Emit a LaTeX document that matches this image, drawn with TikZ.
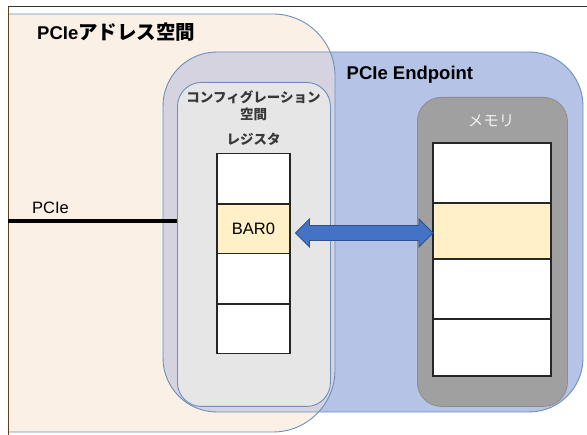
\documentclass[tikz,border=0pt]{standalone}
\usepackage{fontspec}
\setmainfont{Liberation Sans}
\newfontfamily\cjk{Noto Sans CJK JP}
\usetikzlibrary{calc}

\definecolor{peach}{HTML}{FAF0E6}
\definecolor{epblue}{HTML}{B4C3E6}
\definecolor{lavender}{HTML}{D6D3E0}
\definecolor{edgeblue}{HTML}{6C8EBF}
\definecolor{cfggray}{HTML}{E6E6E6}
\definecolor{memgray}{HTML}{A0A0A0}
\definecolor{barfill}{HTML}{FFF0C8}
\definecolor{arrowfill}{HTML}{4472C4}
\definecolor{arrowedge}{HTML}{2F528F}

\tikzset{
  region/.style={draw=edgeblue, line width=0.9pt},
  cell/.style={draw=black!85, line width=1.1pt, fill=white, inner sep=0pt,
    outer sep=0pt, anchor=north west, font=\fontsize{16.5}{18}\selectfont},
  regcell/.style={cell, minimum width=73pt},
  memcell/.style={cell, minimum width=118pt},
  barcell/.style={fill=barfill},
  cfglabel/.style={text=black!78, font=\cjk\bfseries\fontsize{13.5}{15}\selectfont, inner sep=0pt},
  bigtitle/.style={anchor=base west, inner sep=0pt, font=\fontsize{18.5}{20}\selectfont},
  bidir/.style={fill=arrowfill, draw=arrowedge, line width=0.8pt, line join=miter},
}

\begin{document}
\begin{tikzpicture}[x=1pt,y=-1pt]
  \useasboundingbox (0,0) rectangle (587,435);

  % PCIe address space (left part cut by the frame)
  \begin{scope}
    \clip (8,0) rectangle (587,435);
    \fill[peach, rounded corners=62pt] (-70,14) rectangle (335,432);
    \fill[epblue, rounded corners=54pt] (163,52) rectangle (583,412);
    \begin{scope}
      \clip[rounded corners=62pt] (-70,14) rectangle (335,432);
      \fill[lavender, rounded corners=54pt] (163,52) rectangle (583,412);
    \end{scope}
    \draw[region, rounded corners=62pt] (-70,14) rectangle (335,432);
    \draw[region, rounded corners=54pt] (163,52) rectangle (583,412);
  \end{scope}

  % frame
  \draw[black!80, line width=1pt] (8,7) -- (587,7);
  \draw[black!50!brown, line width=1pt] (8,7) -- (8,435);

  % configuration space and memory boxes
  \node[region, fill=cfggray, rounded corners=24pt, minimum width=153pt,
        minimum height=324pt, anchor=north west, inner sep=0pt] (cfg) at (177,82) {};
  \node[draw=black!45, line width=0.8pt, fill=memgray, rounded corners=24pt,
        minimum width=150pt, minimum height=309pt, anchor=north west,
        inner sep=0pt] (mem) at (417,97) {};

  % register cells
  \node[regcell, minimum height=50.5pt] (reg1) at (217,153.5) {};
  \node[regcell, barcell, minimum height=49.5pt] (reg2) at (reg1.south west) {BAR0};
  \node[regcell, minimum height=50.5pt] (reg3) at (reg2.south west) {};
  \node[regcell, minimum height=49.5pt] (reg4) at (reg3.south west) {};

  % memory cells
  \node[memcell, minimum height=60pt] (mem1) at (433,143) {};
  \node[memcell, barcell, minimum height=56pt] (mem2) at (mem1.south west) {};
  \node[memcell, minimum height=60pt] (mem3) at (mem2.south west) {};
  \node[memcell, minimum height=57pt] (mem4) at (mem3.south west) {};

  % BAR0 <-> memory mapping
  \coordinate (aL) at ($(reg2.east |- mem2.west)+(5.5,2)$);
  \coordinate (aR) at ($(mem2.west)+(0,2)$);
  \draw[bidir] (aL) -- ++(14,-14) -- ++(0,6.5) -- ($(aR)+(-14,-7.5)$)
    -- ++(0,-6.5) -- (aR) -- ++(-14,14) -- ++(0,-6.5)
    -- ($(aL)+(14,7.5)$) -- ++(0,6.5) -- cycle;

  % PCIe link
  \coordinate (link) at (8,221);
  \draw[black, line width=3.4pt] (link) -- (link -| cfg.west);
  \node[anchor=base west, inner sep=0pt, font=\fontsize{16.5}{18}\selectfont]
    (linklabel) at (32,213.5) {PCIe};

  % labels
  \node[bigtitle] (title) at (37,39.5)
    {\bfseries PCIe{\cjk\fontsize{19.5}{21}\selectfont アドレス空間}};
  \node[bigtitle] (eptitle) at (346.5,80) {\bfseries PCIe Endpoint};
  \node[cfglabel] (cfgl1) at (253.5,97) {コンフィグレーション};
  \node[cfglabel] (cfgl2) at (253.5,114.5) {空間};
  \node[cfglabel] (cfgl3) at (253.5,139) {レジスタ};
  \node[text=black!6, inner sep=0pt, font=\cjk\fontsize{15.5}{17}\selectfont]
    (memlabel) at (491,121) {メモリ};
\end{tikzpicture}
\end{document}
